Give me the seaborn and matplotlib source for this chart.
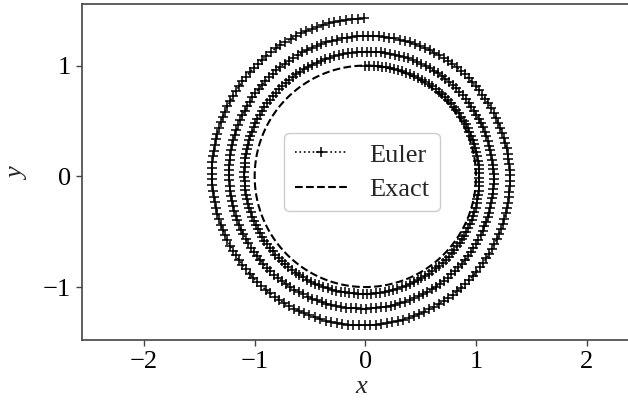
import numpy as np
import pandas as pd
import matplotlib
matplotlib.use("Agg")
import matplotlib.pyplot as plt
import seaborn as sns

# Explicit Euler for the harmonic oscillator x' = y, y' = -x, over three periods
n_steps = 500
t_end = 6 * np.pi
x0, y0 = 0.0, 1.0

h = t_end / n_steps
xs = [x0]
ys = [y0]
for _ in range(n_steps):
    xn, yn = xs[-1], ys[-1]
    xs.append(xn + h * yn)
    ys.append(yn - h * xn)

# Exact solution: unit circle
t_exact = np.linspace(0, 2 * np.pi, 400)
x_exact = np.sin(t_exact)
y_exact = np.cos(t_exact)

euler = pd.DataFrame({"x": xs, "y": ys})
exact = pd.DataFrame({"x": x_exact, "y": y_exact})

sns.set_theme(style="white")
plt.rcParams["font.family"] = ["Liberation Serif", "DejaVu Serif"]
plt.rcParams["mathtext.fontset"] = "custom"
plt.rcParams["mathtext.rm"] = "Liberation Serif"
plt.rcParams["mathtext.it"] = "Liberation Serif:italic"

W, H = 628, 405
fig = plt.figure(figsize=(W / 100, H / 100), dpi=100)
ax = fig.add_axes([82 / W, 65 / H, 560 / W, 336 / H])

sns.lineplot(data=euler, x="x", y="y", sort=False, estimator=None, ax=ax,
             color="black", linestyle=":", linewidth=1.2, marker="+",
             markersize=7, markeredgewidth=1.1, markeredgecolor="black",
             markerfacecolor="black", label="Euler")
sns.lineplot(data=exact, x="x", y="y", sort=False, estimator=None, ax=ax,
             color="black", linestyle="--", linewidth=1.5, label="Exact")

ax.set_xlim(-2.56, 2.5)
ax.set_ylim(-1.478, 1.556)
ax.set_xticks([-2, -1, 0, 1, 2])
ax.set_yticks([-1, 0, 1])
ax.tick_params(axis="both", direction="out", length=4, width=1, color="#444444",
               labelsize=19, labelcolor="black", bottom=True, left=True, pad=4)
for s in ax.spines.values():
    s.set_color("#444444")
    s.set_linewidth(1.2)

ax.set_xlabel("$x$", fontsize=19, labelpad=2)
ax.set_ylabel("$y$", fontsize=19, labelpad=10)

leg = ax.legend(loc="center", fontsize=19, frameon=True, fancybox=True,
                edgecolor="#cccccc", framealpha=1.0, handlelength=2.0,
                borderpad=0.4, labelspacing=0.4, handletextpad=0.8)

fig.savefig("out.png", dpi=100)
